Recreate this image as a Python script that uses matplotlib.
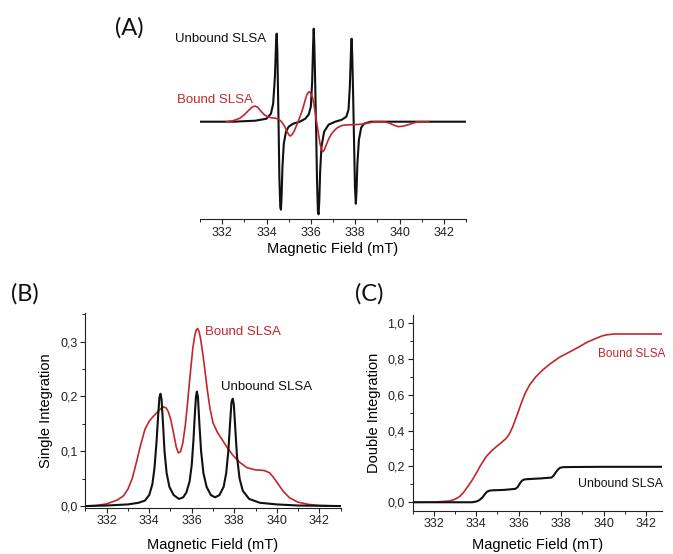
import matplotlib
matplotlib.use("Agg")
import matplotlib.pyplot as plt
from matplotlib.ticker import MultipleLocator, FuncFormatter

plt.rcParams['font.family'] = ['Liberation Sans', 'DejaVu Sans']

# ---------------- data ----------------
# (A) EPR first-derivative spectra (arbitrary units)
fieldA_unbound = [331.0, 332.5, 333.5, 334.0, 334.2, 334.3, 334.38, 334.43, 334.46, 334.49,
                  334.52, 334.55, 334.58, 334.62, 334.65, 334.68, 334.72, 334.78, 334.88, 335.0,
                  335.2, 335.5, 335.75, 335.9, 336.0, 336.06, 336.10, 336.13, 336.16, 336.2,
                  336.24, 336.28, 336.32, 336.35, 336.38, 336.42, 336.48, 336.6, 336.8, 337.1,
                  337.4, 337.6, 337.7, 337.76, 337.81, 337.84, 337.87, 337.91, 337.95, 337.99,
                  338.03, 338.06, 338.1, 338.17, 338.27, 338.4, 338.7, 343.0]
intA_unbound = [0, 0, 1, 3, 8, 18, 45, 78, 88, 70,
                30, -10, -55, -85, -88, -75, -45, -22, -10, -5,
                -2, 0, 3, 7, 15, 40, 75, 93, 75, 35,
                -10, -60, -90, -92.6, -80, -50, -25, -10, -3, 0,
                2, 5, 12, 35, 70, 83, 65, 25, -20, -65,
                -82, -70, -42, -18, -6, -2, 0, 0]

fieldA_bound = [332.2, 332.5, 332.8, 333.0, 333.2, 333.35, 333.48, 333.6, 333.75, 333.9,
                334.05, 334.2, 334.4, 334.55, 334.68, 334.8, 334.92, 335.02, 335.08, 335.15,
                335.25, 335.35, 335.45, 335.55, 335.65, 335.75, 335.83, 335.92, 336.0, 336.08,
                336.15, 336.22, 336.28, 336.35, 336.42, 336.48, 336.54, 336.6, 336.7, 336.8,
                336.92, 337.05, 337.2, 337.4, 337.6, 338.0, 338.3, 338.6, 338.9, 339.3,
                339.55, 339.75, 339.95, 340.15, 340.4, 340.6, 340.85, 341.3]
intA_bound = [0, 1, 3.5, 7, 11.5, 14.5, 15.7, 14.5, 10.5, 7,
              5, 4, 3.5, 2.5, 0, -4, -9.5, -13.5, -14.3, -13,
              -9.5, -4, 1.5, 7.5, 14, 22, 27.5, 30, 28.5, 24,
              16, 6, -3, -13, -22.5, -28, -30, -28.5, -23, -17.5,
              -12.5, -9, -6, -3.8, -3.2, -2.9, -2.5, -1.2, 0, 0,
              -1.5, -3.5, -5, -4.5, -3, -1.5, 0, 0]

# (B) single integration
fieldB_unbound = [331.0, 332.0, 333.0, 333.5, 333.8, 334.0, 334.15, 334.25, 334.35, 334.42,
                  334.48, 334.53, 334.58, 334.65, 334.72, 334.82, 334.95, 335.15, 335.4, 335.6,
                  335.75, 335.9, 336.0, 336.08, 336.15, 336.2, 336.24, 336.29, 336.36, 336.44,
                  336.55, 336.7, 336.9, 337.1, 337.3, 337.5, 337.62, 337.72, 337.8, 337.87,
                  337.93, 337.98, 338.05, 338.13, 338.25, 338.4, 338.7, 339.2, 340.0, 341.0, 343.0]
singB_unbound = [0.0, 0.001, 0.003, 0.006, 0.01, 0.02, 0.04, 0.07, 0.12, 0.165,
                 0.198, 0.205, 0.195, 0.15, 0.10, 0.06, 0.035, 0.02, 0.013, 0.016,
                 0.025, 0.045, 0.075, 0.12, 0.17, 0.20, 0.209, 0.20, 0.15, 0.10,
                 0.06, 0.035, 0.02, 0.016, 0.02, 0.035, 0.06, 0.10, 0.15, 0.19,
                 0.196, 0.185, 0.14, 0.09, 0.05, 0.028, 0.013, 0.006, 0.003, 0.001, 0.0]

fieldB_bound = [331.0, 331.5, 332.0, 332.5, 332.8, 333.0, 333.2, 333.4, 333.6, 333.8,
                334.0, 334.2, 334.4, 334.55, 334.68, 334.8, 334.9, 335.02, 335.15, 335.27,
                335.37, 335.47, 335.58, 335.7, 335.82, 335.94, 336.05, 336.15, 336.22, 336.28,
                336.35, 336.43, 336.52, 336.62, 336.74, 336.86, 337.0, 337.2, 337.45, 337.7,
                337.95, 338.25, 338.6, 339.0, 339.4, 339.65, 339.85, 340.05, 340.3, 340.6,
                341.0, 341.5, 342.0, 343.0]
singB_bound = [0.0, 0.001, 0.004, 0.011, 0.019, 0.031, 0.05, 0.08, 0.112, 0.14,
               0.155, 0.164, 0.172, 0.178, 0.181, 0.179, 0.172, 0.157, 0.132, 0.108,
               0.097, 0.099, 0.115, 0.148, 0.195, 0.245, 0.288, 0.313, 0.322, 0.324,
               0.318, 0.302, 0.278, 0.248, 0.21, 0.178, 0.152, 0.135, 0.12, 0.105,
               0.092, 0.08, 0.07, 0.066, 0.065, 0.061, 0.052, 0.041, 0.027, 0.015,
               0.007, 0.003, 0.001, 0.0]

# (C) double integration
fieldC_unbound = [331.0, 333.8, 334.0, 334.15, 334.3, 334.4, 334.5, 334.62, 334.8, 335.3,
                  335.85, 335.95, 336.05, 336.15, 336.25, 336.4, 337.0, 337.55, 337.65, 337.75,
                  337.85, 337.95, 338.1, 338.6, 340.0, 342.73]
dblC_unbound = [0.0, 0.0, 0.004, 0.012, 0.028, 0.045, 0.058, 0.065, 0.067, 0.069,
                0.075, 0.085, 0.105, 0.12, 0.127, 0.129, 0.133, 0.138, 0.15, 0.168,
                0.183, 0.193, 0.196, 0.197, 0.198, 0.198]

fieldC_bound = [331.0, 332.0, 332.74, 333.0, 333.21, 333.4, 333.6, 333.8, 334.0, 334.2,
                334.47, 334.7, 334.94, 335.2, 335.41, 335.55, 335.72, 335.9, 336.12, 336.3,
                336.51, 336.8, 337.13, 337.5, 337.92, 338.4, 338.86, 339.2, 339.65, 339.9,
                340.12, 340.5, 340.9, 342.73]
dblC_bound = [0.0, 0.001, 0.007, 0.017, 0.031, 0.055, 0.087, 0.122, 0.162, 0.205,
              0.255, 0.285, 0.31, 0.335, 0.357, 0.38, 0.422, 0.48, 0.553, 0.608,
              0.655, 0.70, 0.739, 0.775, 0.81, 0.84, 0.869, 0.893, 0.916, 0.928,
              0.935, 0.94, 0.94, 0.94]

xticks = [332, 334, 336, 338, 340, 342]
yticksB = [0.0, 0.1, 0.2, 0.3]
yticksC = [0.0, 0.2, 0.4, 0.6, 0.8, 1.0]

BLACK = '#111111'
RED = '#c0272d'

# ---------------- figure ----------------
W, H = 673, 554
fig = plt.figure(figsize=(W / 100, H / 100), dpi=100)


def ax_px(left, right, bottom, top):
    return fig.add_axes([left / W, 1 - bottom / H, (right - left) / W, (bottom - top) / H])


comma = FuncFormatter(lambda v, p: ('%.1f' % v).replace('.', ','))


def style(ax):
    ax.tick_params(axis='both', which='major', direction='out', length=3.5, width=0.8,
                   labelsize=9, colors='#222222', pad=2)
    ax.tick_params(axis='both', which='minor', direction='out', length=2, width=0.7,
                   colors='#222222')
    for s in ('top', 'right'):
        ax.spines[s].set_visible(False)
    for s in ('left', 'bottom'):
        ax.spines[s].set_linewidth(0.8)
        ax.spines[s].set_color('#222222')
    ax.set_xticks(xticks)
    ax.xaxis.set_minor_locator(MultipleLocator(1))


# Panel A
axA = ax_px(200, 466, 219.3, 20)
axA.plot(fieldA_unbound, intA_unbound, color=BLACK, lw=1.5)
axA.plot(fieldA_bound, intA_bound, color=RED, lw=1.2)
axA.set_xlim(331, 343)
axA.set_ylim(-97.6, 101.7)
style(axA)
axA.spines['left'].set_visible(False)
axA.set_yticks([])
axA.set_xlabel('Magnetic Field (mT)', fontsize=10.5, labelpad=2)
axA.text(331.95, 82.7, 'Unbound SLSA', fontsize=9.5, color=BLACK, ha='center', va='center')
axA.text(331.68, 22.2, 'Bound SLSA', fontsize=9.5, color=RED, ha='center', va='center')

# Panel B
axB = ax_px(85.4, 340.6, 507.7, 313)
axB.plot(fieldB_bound, singB_bound, color=RED, lw=1.2)
axB.plot(fieldB_unbound, singB_unbound, color=BLACK, lw=1.5)
axB.set_xlim(331, 343)
axB.set_ylim(-0.003, 0.3524)
style(axB)
axB.set_yticks(yticksB)
axB.yaxis.set_minor_locator(MultipleLocator(0.05))
axB.yaxis.set_major_formatter(comma)
axB.set_xlabel('Magnetic Field (mT)', fontsize=10.5, labelpad=7.5)
axB.set_ylabel('Single Integration', fontsize=10.5, labelpad=5)
axB.text(338.43, 0.318, 'Bound SLSA', fontsize=9.5, color=RED, ha='center', va='center')
axB.text(339.54, 0.217, 'Unbound SLSA', fontsize=9.5, color=BLACK, ha='center', va='center')

# Panel C
axC = ax_px(412.5, 661.7, 510.5, 315)
axC.plot(fieldC_bound, dblC_bound, color=RED, lw=1.2)
axC.plot(fieldC_unbound, dblC_unbound, color=BLACK, lw=1.5)
axC.set_xlim(331, 342.73)
axC.set_ylim(-0.046, 1.046)
style(axC)
axC.set_yticks(yticksC)
axC.yaxis.set_minor_locator(MultipleLocator(0.1))
axC.yaxis.set_major_formatter(comma)
axC.set_xlabel('Magnetic Field (mT)', fontsize=10.5, labelpad=5.5)
axC.set_ylabel('Double Integration', fontsize=10.5, labelpad=5)
axC.text(341.31, 0.828, 'Bound SLSA', fontsize=8.5, color=RED, ha='center', va='center')
axC.text(340.77, 0.102, 'Unbound SLSA', fontsize=8.8, color=BLACK, ha='center', va='center')

# Panel letters
for lab, x, y in (('(A)', 129, 28), ('(B)', 25, 294), ('(C)', 369, 294)):
    fig.text(x / W, 1 - y / H, lab, fontsize=17, family=['Lato', 'DejaVu Sans'],
             ha='center', va='center', color='#111111')

fig.savefig('out.png', dpi=100)
